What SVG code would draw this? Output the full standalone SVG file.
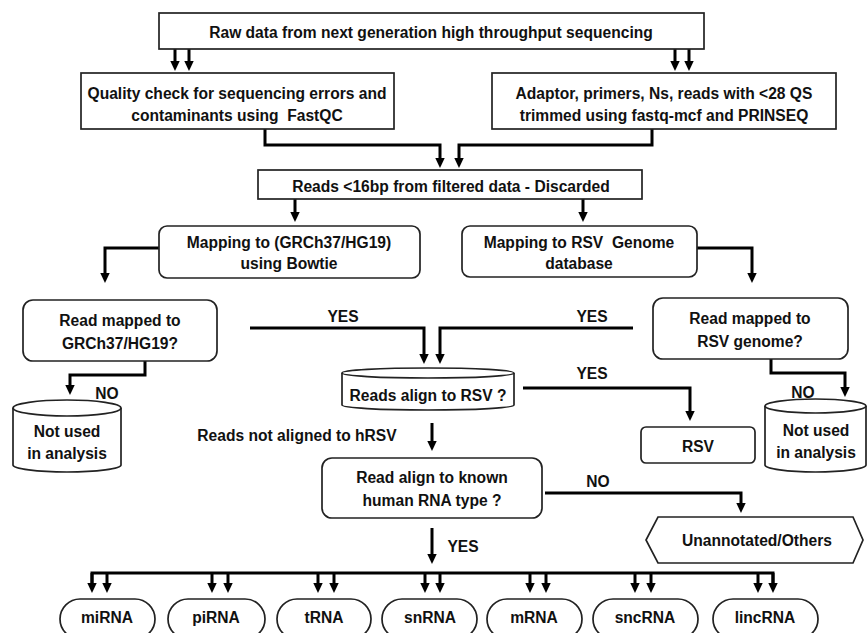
<svg xmlns="http://www.w3.org/2000/svg" width="867" height="633" viewBox="0 0 867 633">
<style>
.box{fill:#fff;stroke:#222;stroke-width:1.7}
.t{font-family:"Liberation Sans",Arial,sans-serif;font-weight:bold;font-size:15.6px;fill:#111;text-anchor:middle;dominant-baseline:central}
.c{fill:none;stroke:#000;stroke-width:3;marker-end:url(#ah)}
.l{fill:none;stroke:#000;stroke-width:3}
</style>
<defs>
<marker id="ah" markerUnits="userSpaceOnUse" markerWidth="10" markerHeight="10" viewBox="0 0 10 10" refX="3" refY="5" orient="auto">
<path d="M0,0.3 L10,5 L0,9.7 z" fill="#000"/>
</marker>
</defs>
<rect width="867" height="633" fill="#fff"/>
<g id="connectors">
<path class="c" d="M175,49 V64"/>
<path class="c" d="M189,49 V64"/>
<path class="c" d="M675,49 V64"/>
<path class="c" d="M689,49 V64"/>
<path class="c" d="M265,129 V145 H440 V161"/>
<path class="c" d="M652,129 V145 H459 V161"/>
<path class="c" d="M295,199 V215"/>
<path class="c" d="M583,199 V215"/>
<path class="c" d="M159,248 H105 V276"/>
<path class="c" d="M697,248 H752 V276"/>
<path class="c" d="M250,328 H424 V357"/>
<path class="c" d="M633,328 H440 V357"/>
<path class="c" d="M523,388 H690 V414"/>
<path class="c" d="M145,361 V375 H70 V388"/>
<path class="c" d="M771,359 V373 H845 V390"/>
<path class="c" d="M432,423 V444"/>
<path class="c" d="M545,493 H741 V506"/>
<path class="c" d="M432,528 V557"/>
<path class="l" d="M92,586 V573 H773 V586"/>
<path class="c" d="M92,573 V586"/>
<path class="c" d="M107,573 V586"/>
<path class="c" d="M212,573 V586"/>
<path class="c" d="M228,573 V586"/>
<path class="c" d="M318,573 V586"/>
<path class="c" d="M334,573 V586"/>
<path class="c" d="M425,573 V586"/>
<path class="c" d="M440,573 V586"/>
<path class="c" d="M530,573 V586"/>
<path class="c" d="M546,573 V586"/>
<path class="c" d="M635,573 V586"/>
<path class="c" d="M651,573 V586"/>
<path class="c" d="M758,573 V586"/>
<path class="c" d="M773,573 V586"/>
</g>
<g id="labels">
<text class="t" x="343" y="316">YES</text>
<text class="t" x="592" y="316">YES</text>
<text class="t" x="592" y="373">YES</text>
<text class="t" x="107" y="393">NO</text>
<text class="t" x="803" y="392">NO</text>
<text class="t" x="598" y="481">NO</text>
<text class="t" x="463" y="546">YES</text>
<text class="t" x="297" y="435">Reads not aligned to hRSV</text>
</g>
<g id="raw">
<rect class="box" x="159" y="13" width="545" height="36"/>
<text class="t" x="431" y="32">Raw data from next generation high throughput sequencing</text>
</g>
<g id="quality">
<rect class="box" x="81" y="73" width="313" height="56"/>
<text class="t" x="237" y="93">Quality check for sequencing errors and</text>
<text class="t" x="237" y="115">contaminants using&#160; FastQC</text>
</g>
<g id="adaptor">
<rect class="box" x="492" y="73" width="344" height="56"/>
<text class="t" x="664" y="93">Adaptor, primers, Ns, reads with &lt;28 QS</text>
<text class="t" x="664" y="115">trimmed using fastq-mcf and PRINSEQ</text>
</g>
<g id="reads16">
<rect class="box" x="258" y="170" width="384" height="29"/>
<text class="t" x="451" y="186">Reads &lt;16bp from filtered data - Discarded</text>
</g>
<g id="map-human">
<rect class="box" x="159" y="226" width="261" height="52" rx="8"/>
<text class="t" x="289" y="242">Mapping to (GRCh37/HG19)</text>
<text class="t" x="289" y="263">using Bowtie</text>
</g>
<g id="map-rsv">
<rect class="box" x="462" y="226" width="235" height="51" rx="8"/>
<text class="t" x="579" y="242">Mapping to RSV&#160; Genome</text>
<text class="t" x="579" y="263">database</text>
</g>
<g id="mapped-human">
<rect class="box" x="23" y="300" width="194" height="61" rx="10"/>
<text class="t" x="120" y="320">Read mapped to</text>
<text class="t" x="120" y="343">GRCh37/HG19?</text>
</g>
<g id="mapped-rsv">
<rect class="box" x="653" y="298" width="195" height="61" rx="10"/>
<text class="t" x="750" y="318">Read mapped to</text>
<text class="t" x="750" y="341">RSV genome?</text>
</g>
<g id="align-rsv">
<path class="box" d="M342,373 A86,5 0 0 1 514,373 V405 A86,5 0 0 1 342,405 Z"/>
<path class="box" d="M342,373 A86,5 0 0 0 514,373" fill="none"/>
<text class="t" x="428" y="395">Reads align to RSV ?</text>
</g>
<g id="notused-left">
<path class="box" d="M13,408 A54,8 0 0 1 121,408 V465 A54,7 0 0 1 13,465 Z"/>
<path class="box" d="M13,408 A54,8 0 0 0 121,408" fill="none"/>
<text class="t" x="67" y="431">Not used</text>
<text class="t" x="67" y="453">in analysis</text>
</g>
<g id="notused-right">
<path class="box" d="M765,406 A50.5,7 0 0 1 866,406 V465 A50.5,7 0 0 1 765,465 Z"/>
<path class="box" d="M765,406 A50.5,7 0 0 0 866,406" fill="none"/>
<text class="t" x="816" y="430">Not used</text>
<text class="t" x="816" y="452">in analysis</text>
</g>
<g id="rsv">
<rect class="box" x="641" y="427" width="114" height="36" rx="5"/>
<text class="t" x="698" y="446">RSV</text>
</g>
<g id="align-rna">
<rect class="box" x="322" y="458" width="220" height="60" rx="10"/>
<text class="t" x="432" y="477">Read align to known</text>
<text class="t" x="432" y="500">human RNA type ?</text>
</g>
<g id="unannotated">
<polygon class="box" points="658,517 853,517 863,540 853,563 658,563 646,540"/>
<text class="t" x="757" y="540">Unannotated/Others</text>
</g>
<g id="mirna"><rect class="box" x="60" y="599" width="95" height="40" rx="20"/><text class="t" x="107" y="617">miRNA</text></g>
<g id="pirna"><rect class="box" x="168" y="599" width="97" height="40" rx="20"/><text class="t" x="216" y="617">piRNA</text></g>
<g id="trna"><rect class="box" x="277" y="599" width="94" height="40" rx="20"/><text class="t" x="324" y="617">tRNA</text></g>
<g id="snrna"><rect class="box" x="382" y="599" width="95" height="40" rx="20"/><text class="t" x="430" y="617">snRNA</text></g>
<g id="mrna"><rect class="box" x="487" y="599" width="95" height="40" rx="20"/><text class="t" x="534" y="617">mRNA</text></g>
<g id="sncrna"><rect class="box" x="593" y="599" width="105" height="40" rx="20"/><text class="t" x="645" y="617">sncRNA</text></g>
<g id="lincrna"><rect class="box" x="713" y="599" width="105" height="40" rx="20"/><text class="t" x="765" y="617">lincRNA</text></g>
</svg>
